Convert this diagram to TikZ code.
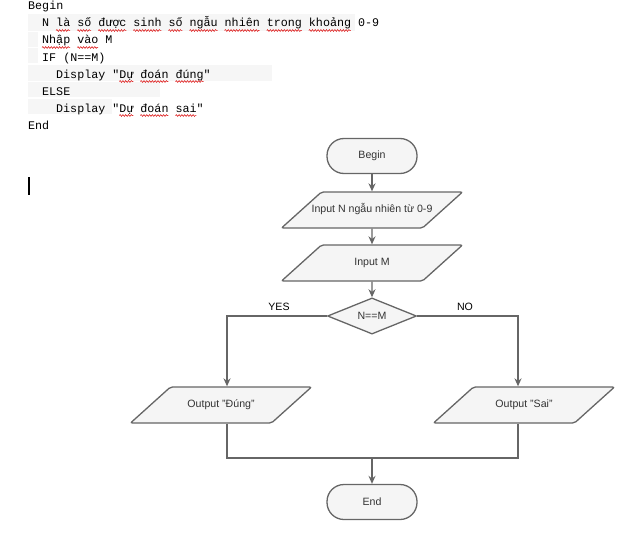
\documentclass[tikz,border=0pt]{standalone}
\usepackage{fontspec}
\setmainfont{Liberation Sans}
\newfontfamily\codefont{Liberation Mono}
\usetikzlibrary{shapes.geometric,arrows.meta,decorations.pathmorphing}
\definecolor{linegray}{HTML}{666666}
\definecolor{boxfill}{HTML}{F5F5F5}
\definecolor{boxtext}{HTML}{333333}
\definecolor{hlgray}{HTML}{F6F6F6}

\begin{document}
\begin{tikzpicture}[x=1pt,y=-1pt,>={Stealth[length=8pt,width=7pt]},
    every node/.style={font=\fontsize{10.6}{12}\selectfont,text=boxtext},
    term/.style={draw=linegray,fill=boxfill,line width=1.3pt,rectangle,
      rounded corners=17pt,minimum width=90pt,minimum height=35pt},
    io/.style={draw=linegray,fill=boxfill,line width=1.3pt,trapezium,
      trapezium left angle=42,trapezium right angle=138,trapezium stretches body,
      rounded corners=2pt,minimum width=181pt,inner xsep=-15pt,
      text height=8pt,text depth=2.5pt,inner ysep=12.75pt},
    cond/.style={draw=linegray,fill=boxfill,line width=1.3pt,diamond,
      minimum width=89pt,minimum height=36pt,inner sep=0pt},
    flow/.style={draw=linegray,line width=1.3pt},
    code/.style={anchor=base west,inner sep=0pt,text=black,
      font=\fontsize{11.7}{14}\codefont},
    squig/.style={draw=red!85!black,line width=0.5pt,
      decorate,decoration={snake,amplitude=0.9pt,segment length=2.8pt}}]
  \useasboundingbox (0,0) rectangle (634,543);

  % pseudo code
  \fill[hlgray] (28,14) rectangle (355,31);
  \fill[hlgray] (28,32) rectangle (38,47);
  \fill[hlgray] (28,48) rectangle (38,63);
  \fill[hlgray] (28,65) rectangle (272,81);
  \fill[hlgray] (28,82) rectangle (160,97);
  \fill[hlgray] (28,99) rectangle (112,114);
  \node[code] (c0) at (28,10) {Begin};
  \node[code] (c1) at (42,27) {N là số được sinh số ngẫu nhiên trong khoảng 0-9};
  \node[code] (c2) at (42,44) {Nhập vào M};
  \node[code] (c3) at (42,61) {IF (N==M)};
  \node[code] (c4) at (56,78) {Display "Dự đoán đúng"};
  \node[code] (c5) at (42,95) {ELSE};
  \node[code] (c6) at (56,112) {Display "Dự đoán sai"};
  \node[code] (c7) at (28,129) {End};
  \foreach \r/\a/\b in {27/4/6,27/7/9,27/10/14,27/15/19,27/20/22,27/23/27,
      27/28/33,27/34/39,27/40/46,44/2/6,44/7/10,
      78/13/15,78/16/20,78/21/25,112/13/15,112/16/20,112/21/24}
    \draw[squig] ({28+7.02*\a},\r+3.5) -- ({28+7.02*\b},\r+3.5);
  \draw[line width=1.6pt] (29,177) -- (29,195);

  % flowchart
  \node[term] (begin) at (372,156) {Begin};
  \node[io] (in1) at (372,210) {Input N ngẫu nhiên từ 0-9};
  \node[io] (in2) at (372,263) {Input M};
  \node[cond] (dec) at (372,316) {N==M};
  \node[io] (out1) at (221,405) {Output "Đúng"};
  \node[io] (out2) at (524,405) {Output "Sai"};
  \node[term] (end) at (372,502) {End};
  \node[text=black] (yes) at (279,307) {YES};
  \node[text=black] (no) at (465,307) {NO};
  \coordinate (merge) at (372,458);

  \draw[flow,->] (begin) -- (in1);
  \draw[flow,->] (in1) -- (in2);
  \draw[flow,->] (in2) -- (dec);
  \draw[flow,->] (dec.west) -| ([xshift=6pt]out1.north);
  \draw[flow,->] (dec.east) -| ([xshift=-6pt]out2.north);
  \draw[flow] ([xshift=6pt]out1.south) |- (merge) -| ([xshift=-6pt]out2.south);
  \draw[flow,->] (merge) -- (end);
\end{tikzpicture}
\end{document}
